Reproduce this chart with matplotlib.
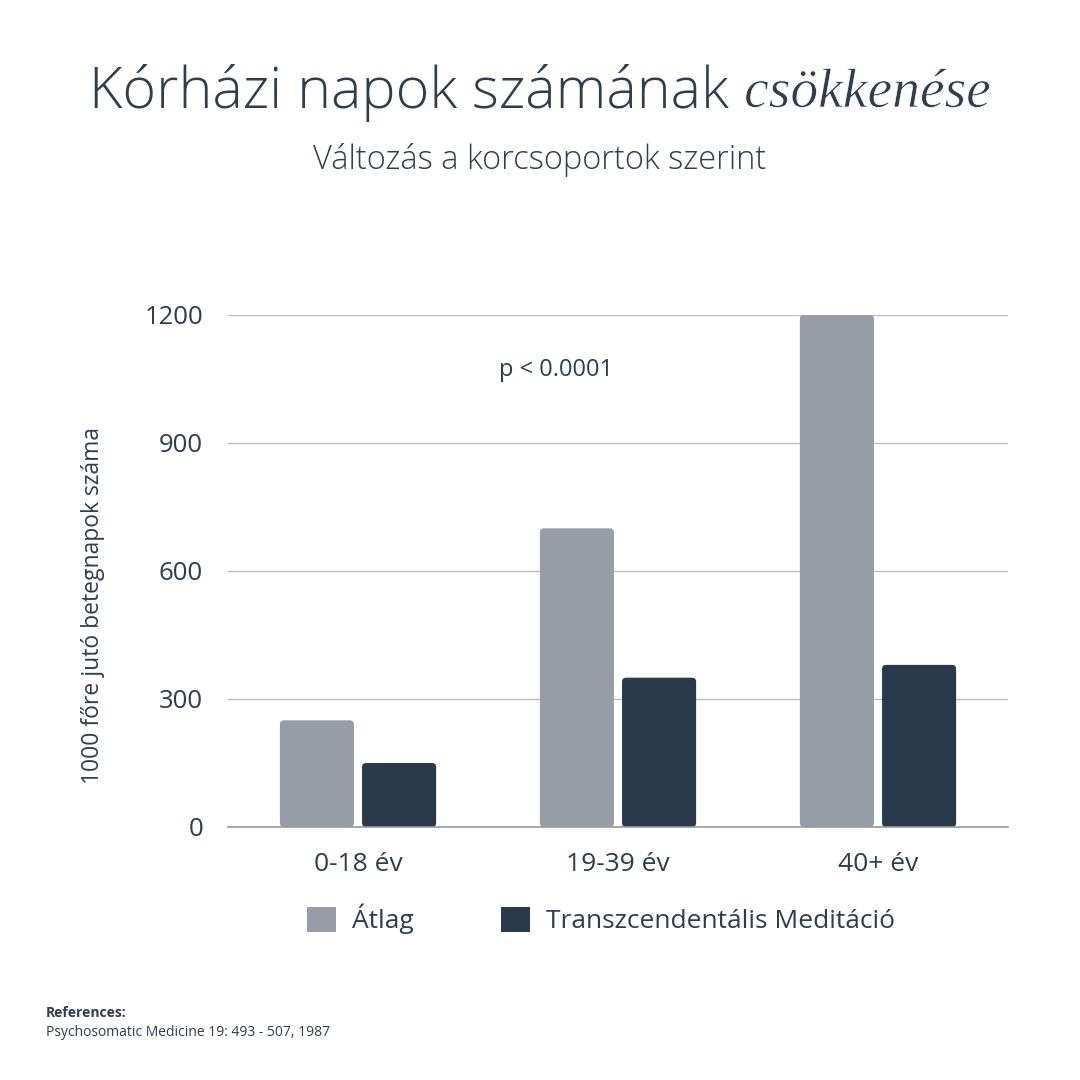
import numpy as np
import matplotlib.pyplot as plt
import matplotlib.patheffects as pe
from matplotlib.patches import FancyBboxPatch, Patch

# data
groups = ['0-18 év', '19-39 év', '40+ év']
atlag = [250, 700, 1200]
tm = [150, 350, 380]
series_names = ['Átlag', 'Transzcendentális Meditáció']
yticks = [0, 300, 600, 900, 1200]

GREY = '#979da6'
DARK = '#283a4b'
TEXT = '#2c3e50'

plt.rcParams['font.family'] = ['Open Sans', 'DejaVu Sans']

fig = plt.figure(figsize=(10.8, 10.8), dpi=100)
ax = fig.add_axes([228 / 1080, 1 - 827 / 1080, 780 / 1080, 512 / 1080])

x = np.arange(len(groups))
w = 0.285
off = 0.158
bars1 = ax.bar(x - off, atlag, w, color=GREY, zorder=3)
bars2 = ax.bar(x + off, tm, w, color=DARK, zorder=3)

# rounded tops: swap each bar for a rounded box of the same size
aspect = (1200 / 512) / (1 / 260)
for b in list(bars1) + list(bars2):
    bx, by = b.get_x(), b.get_y()
    bw, bh = b.get_width(), b.get_height()
    rp = FancyBboxPatch((bx, by), bw, bh,
                        boxstyle='round,pad=0,rounding_size=0.016',
                        mutation_aspect=aspect,
                        facecolor=b.get_facecolor(), edgecolor='none',
                        zorder=3)
    b.set_visible(False)
    ax.add_patch(rp)

ax.set_xlim(-0.5, 2.5)
ax.set_ylim(0, 1200)
ax.set_yticks(yticks)
ax.set_xticks(x)
ax.set_xticklabels(groups, fontsize=19, color=TEXT, fontweight='medium')
ax.tick_params(axis='y', length=0, pad=18, labelsize=18.5, labelcolor=TEXT)
ax.tick_params(axis='x', length=0, pad=18)
ax.grid(axis='y', color='#bbbbbb', linewidth=0.9, zorder=0)
for s in ['top', 'right', 'left']:
    ax.spines[s].set_visible(False)
ax.spines['bottom'].set_color('#999999')
ax.spines['bottom'].set_linewidth(1.2)
ax.spines['bottom'].set_zorder(4)

ax.text(0.421, 0.893, 'p < 0.0001', transform=ax.transAxes,
        ha='center', va='center', fontsize=17, color=TEXT)

fig.text(93 / 1080, 1 - 605 / 1080, '1000 főre jutó betegnapok száma',
         rotation=90, ha='center', va='center', fontsize=16.5, color=TEXT)

# legend (sits a bit right of centre in the reference)
handles = [Patch(facecolor=GREY), Patch(facecolor=DARK)]
fig.legend(handles, series_names, loc='center', ncol=2,
           bbox_to_anchor=(601 / 1080, 1 - 919 / 1080), frameon=False,
           fontsize=19, handlelength=1.1, handleheight=1.1,
           handletextpad=0.6, columnspacing=3.3, labelcolor=TEXT)

# title: regular part + italic serif word, centred together
t1 = fig.text(0, 1 - 93 / 1080, 'Kórházi napok számának ', fontsize=41.4,
              color=TEXT, va='center', ha='left', fontweight='light')
t2 = fig.text(0, 1 - 93 / 1080, 'csökkenése', fontsize=40, color=TEXT,
              va='center', ha='left', style='italic',
              family=['Liberation Serif', 'DejaVu Serif'],
              path_effects=[pe.Stroke(linewidth=0.5, foreground='white')])
fig.canvas.draw()
r = fig.canvas.get_renderer()
w1 = t1.get_window_extent(r).width
w2 = t2.get_window_extent(r).width
start = (1080 - (w1 + w2)) / 2
t1.set_x(start / 1080)
t2.set_x((start + w1) / 1080)

fig.text(0.5, 1 - 160 / 1080, 'Változás a korcsoportok szerint',
         ha='center', va='center', fontsize=23.5, color=TEXT,
         fontweight='light')

fig.text(46 / 1080, 1 - 1013 / 1080, 'References:', fontsize=10,
         fontweight='bold', color=TEXT, va='center')
fig.text(46 / 1080, 1 - 1032 / 1080, 'Psychosomatic Medicine 19: 493 - 507, 1987',
         fontsize=10, color=TEXT, va='center')

fig.savefig('out.png', dpi=100, facecolor='white')
